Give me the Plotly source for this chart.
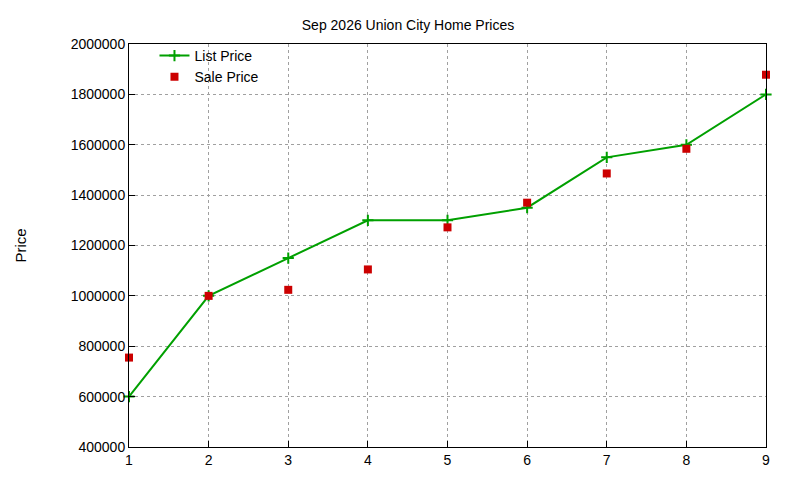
import plotly.graph_objects as go

x_vals = [1, 2, 3, 4, 5, 6, 7, 8, 9]
list_price = [600000, 1000000, 1150000, 1300000, 1300000, 1350000, 1550000, 1600000, 1800000]
sale_price = [755000, 1000000, 1024000, 1105000, 1272000, 1370000, 1486000, 1584000, 1878000]

fig = go.Figure()
fig.add_trace(go.Scatter(
    x=x_vals, y=list_price, mode='lines+markers', name='List Price',
    line=dict(color='#00a000', width=2), cliponaxis=False,
    marker=dict(symbol='cross-thin', size=8, line=dict(color='#00a000', width=2)),
))
fig.add_trace(go.Scatter(
    x=x_vals, y=sale_price, mode='markers', name='Sale Price', cliponaxis=False,
    marker=dict(symbol='square', size=8, color='#cc0000'),
))

axis_style = dict(
    showgrid=True, gridcolor='#a0a0a0', griddash='dot', gridwidth=1,
    showline=True, linecolor='black', linewidth=1, mirror=True,
    ticks='inside', ticklen=6, tickcolor='black', zeroline=False,
    tickfont=dict(size=14, color='black'),
)
fig.update_xaxes(range=[1, 9], dtick=1, **axis_style)
fig.update_yaxes(range=[400000, 2000000], dtick=200000, tickformat='d',
                 title=dict(text='Price', font=dict(size=15, color='black'), standoff=40),
                 **axis_style)
fig.update_layout(
    width=800, height=480,
    title=dict(text='Sep 2026 Union City Home Prices', x=0.5, xanchor='center',
               y=0.975, font=dict(size=14, color='black')),
    font=dict(family='Liberation Sans, Arial, sans-serif', color='black'),
    paper_bgcolor='white', plot_bgcolor='white',
    margin=dict(l=111, r=42, t=36, b=41),
    legend=dict(x=0.04, y=1.01, bgcolor='rgba(0,0,0,0)', font=dict(size=14),
                tracegroupgap=0),
)
fig.write_html("out.html")
